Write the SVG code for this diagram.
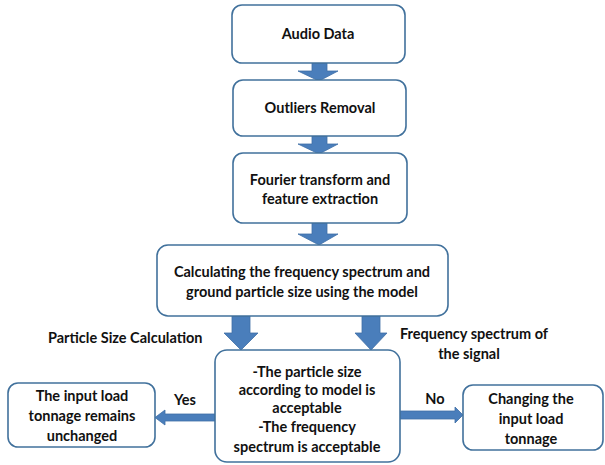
<svg xmlns="http://www.w3.org/2000/svg" width="605" height="465" viewBox="0 0 605 465">
<style>
.box{fill:#fff;stroke:#41719c;stroke-width:1.6}
.t{font-family:Lato,"Liberation Sans",Arial,sans-serif;font-weight:bold;font-size:14.5px;fill:#111;text-anchor:middle}
.l{font-family:Lato,"Liberation Sans",Arial,sans-serif;font-weight:bold;font-size:14.5px;fill:#111}
.arr{fill:#4a7ebb;stroke:#3f6fa6;stroke-width:0.8}
</style>
<rect width="605" height="465" fill="#fff"/>
<g id="connectors">
<path class="arr" d="M312,63 H327 V71 H338 L319,81 L298,71 H312 Z"/>
<path class="arr" d="M312,136 H327 V144 H338 L319,154 L298,144 H312 Z"/>
<path class="arr" d="M312,223 H327 V234 H338 L319,245 L298,234 H312 Z"/>
<path class="arr" d="M232,316 H250 V333 H258 L241,350 L224,333 H232 Z"/>
<path class="arr" d="M362,316 H380 V333 H387 L371,350 L355,333 H362 Z"/>
<path class="arr" d="M215,414 H165 V410 L155,417.5 L165,425 V421 H215 Z"/>
<path class="arr" d="M400,411 H455 V407 L463,415 L455,423 V419 H400 Z"/>
</g>
<g id="n1"><rect class="box" x="232" y="5" width="173" height="58" rx="10"/><text class="t" x="318" y="39">Audio Data</text></g>
<g id="n2"><rect class="box" x="233" y="80" width="173" height="56" rx="10"/><text class="t" x="320" y="113">Outliers Removal</text></g>
<g id="n3"><rect class="box" x="233" y="153" width="174" height="70" rx="10"/><text class="t" x="320" y="185">Fourier transform and</text><text class="t" x="320" y="204">feature extraction</text></g>
<g id="n4"><rect class="box" x="157" y="245" width="291" height="71" rx="11"/><text class="t" x="302" y="277">Calculating the frequency spectrum and</text><text class="t" x="302" y="297">ground particle size using the model</text></g>
<g id="n5"><rect class="box" x="215" y="350" width="185" height="112" rx="12"/><text class="t" x="307" y="377">-The particle size</text><text class="t" x="307" y="395">according to model is</text><text class="t" x="307" y="413">acceptable</text><text class="t" x="307" y="432">-The frequency</text><text class="t" x="307" y="452">spectrum is acceptable</text></g>
<g id="n6"><rect class="box" x="8" y="383" width="147" height="64" rx="10"/><text class="t" x="82" y="401">The input load</text><text class="t" x="82" y="421">tonnage remains</text><text class="t" x="82" y="441">unchanged</text></g>
<g id="n7"><rect class="box" x="463" y="385" width="140" height="65" rx="10"/><text class="t" x="531" y="404">Changing the</text><text class="t" x="531" y="424">input load</text><text class="t" x="531" y="444">tonnage</text></g>
<g id="labels">
<text class="l" x="48" y="343">Particle Size Calculation</text>
<text class="t" x="474" y="339">Frequency spectrum of</text>
<text class="t" x="469" y="359">the signal</text>
<text class="t" x="185" y="405">Yes</text>
<text class="t" x="435" y="404">No</text>
</g>
</svg>
